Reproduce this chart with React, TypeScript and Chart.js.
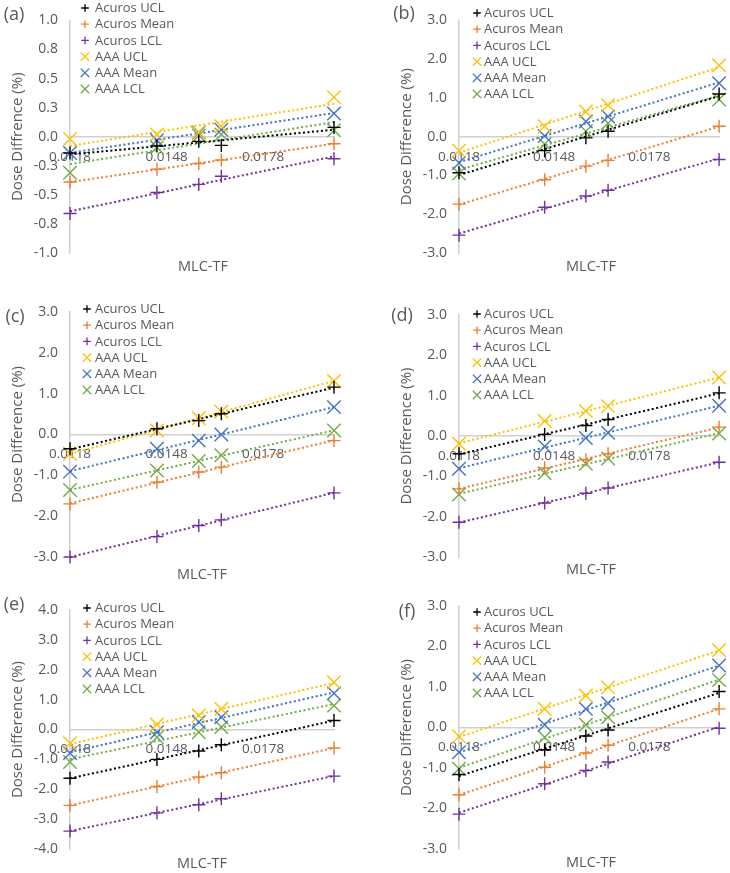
import React, { useEffect, useRef } from "react";
import { Chart, registerables } from "chart.js";

Chart.register(...registerables);

// ---------- data ----------
const mlcTF = [0.0118, 0.0145, 0.0158, 0.0165, 0.02];
const xTickValues = [0.0118, 0.0148, 0.0178];

const seriesNames = ["Acuros UCL", "Acuros Mean", "Acuros LCL", "AAA UCL", "AAA Mean", "AAA LCL"];
const seriesColors = ["#000000", "#ED7D31", "#7030A0", "#FFC000", "#4472C4", "#70AD47"];
const seriesMarkers = ["cross", "cross", "cross", "crossRot", "crossRot", "crossRot"];

const yTicksA = [-1, -0.75, -0.5, -0.25, 0, 0.25, 0.5, 0.75, 1];
const yTicks3 = [-3, -2, -1, 0, 1, 2, 3];
const yTicks4 = [-4, -3, -2, -1, 0, 1, 2, 3, 4];

// (a)
const a_acurosUCL = [-0.14, -0.08, -0.04, -0.075, 0.08];
const a_acurosMean = [-0.39, -0.28, -0.23, -0.2, -0.06];
const a_acurosLCL = [-0.66, -0.48, -0.41, -0.34, -0.19];
const a_aaaUCL = [-0.02, 0.02, 0.04, 0.09, 0.34];
const a_aaaMean = [-0.14, -0.03, 0.035, 0.06, 0.2];
const a_aaaLCL = [-0.31, -0.09, 0.01, 0.02, 0.055];

// (b)
const b_acurosUCL = [-0.93, -0.36, -0.03, 0.14, 1.1];
const b_acurosMean = [-1.74, -1.11, -0.76, -0.61, 0.27];
const b_acurosLCL = [-2.54, -1.82, -1.53, -1.38, -0.59];
const b_aaaUCL = [-0.36, 0.27, 0.65, 0.81, 1.84];
const b_aaaMean = [-0.68, 0.02, 0.39, 0.52, 1.38];
const b_aaaLCL = [-0.95, -0.19, 0.14, 0.35, 0.96];

// (c)
const c_acurosUCL = [-0.35, 0.14, 0.34, 0.51, 1.16];
const c_acurosMean = [-1.7, -1.17, -0.92, -0.8, -0.15];
const c_acurosLCL = [-3.0, -2.5, -2.23, -2.09, -1.43];
const c_aaaUCL = [-0.47, 0.1, 0.4, 0.56, 1.31];
const c_aaaMean = [-0.91, -0.35, -0.15, 0.0, 0.67];
const c_aaaLCL = [-1.36, -0.88, -0.65, -0.51, 0.1];

// (d)
const d_acurosUCL = [-0.44, 0.04, 0.26, 0.41, 1.07];
const d_acurosMean = [-1.31, -0.79, -0.59, -0.44, 0.22];
const d_acurosLCL = [-2.14, -1.66, -1.42, -1.29, -0.65];
const d_aaaUCL = [-0.19, 0.37, 0.62, 0.74, 1.45];
const d_aaaMean = [-0.81, -0.26, -0.05, 0.08, 0.75];
const d_aaaLCL = [-1.45, -0.92, -0.69, -0.56, 0.06];

// (e)
const e_acurosUCL = [-1.63, -1.0, -0.72, -0.51, 0.3];
const e_acurosMean = [-2.54, -1.91, -1.59, -1.45, -0.62];
const e_acurosLCL = [-3.4, -2.79, -2.52, -2.32, -1.56];
const e_aaaUCL = [-0.46, 0.17, 0.47, 0.69, 1.58];
const e_aaaMean = [-0.79, -0.09, 0.25, 0.41, 1.21];
const e_aaaLCL = [-1.09, -0.26, -0.09, 0.08, 0.8];

// (f)
const f_acurosUCL = [-1.16, -0.55, -0.21, -0.06, 0.89];
const f_acurosMean = [-1.66, -0.98, -0.63, -0.44, 0.46];
const f_acurosLCL = [-2.14, -1.39, -1.06, -0.85, -0.02];
const f_aaaUCL = [-0.22, 0.46, 0.79, 0.99, 1.91];
const f_aaaMean = [-0.61, 0.07, 0.46, 0.6, 1.53];
const f_aaaLCL = [-1.02, -0.24, 0.07, 0.25, 1.17];

// ---------- layout / style ----------
const FONT = '"Open Sans", "DejaVu Sans", sans-serif';
const TEXT = "#595959";
const AXIS = "#d0d0d0";
const CW = 365;
const CH = 293;

const panels = [
  {
    label: "(a)", yTitle: "Dose Diffrence (%)", yTicks: yTicksA,
    series: [a_acurosUCL, a_acurosMean, a_acurosLCL, a_aaaUCL, a_aaaMean, a_aaaLCL],
    left: 0, top: 0, axisX: 70, plotTop: 13, plotBottom: 253, plotRight: 334,
    labelX: 14, labelY: 15, titleX: 203, titleY: 267, legX: 85, legTextX: 95, legY: 8,
  },
  {
    label: "(b)", yTitle: "Dose Difference (%)", yTicks: yTicks3,
    series: [b_acurosUCL, b_acurosMean, b_acurosLCL, b_aaaUCL, b_aaaMean, b_aaaLCL],
    left: 365, top: 0, axisX: 459, plotTop: 15, plotBottom: 253, plotRight: 723,
    labelX: 404, labelY: 14, titleX: 591, titleY: 267, legX: 477, legTextX: 484, legY: 13,
  },
  {
    label: "(c)", yTitle: "Dose Difference (%)", yTicks: yTicks3,
    series: [c_acurosUCL, c_acurosMean, c_acurosLCL, c_aaaUCL, c_aaaMean, c_aaaLCL],
    left: 0, top: 290, axisX: 70, plotTop: 312, plotBottom: 557, plotRight: 334,
    labelX: 15, labelY: 317, titleX: 202, titleY: 575, legX: 87, legTextX: 95, legY: 309,
  },
  {
    label: "(d)", yTitle: "Dose Difference (%)", yTicks: yTicks3,
    series: [d_acurosUCL, d_acurosMean, d_acurosLCL, d_aaaUCL, d_aaaMean, d_aaaLCL],
    left: 365, top: 290, axisX: 459, plotTop: 315, plotBottom: 557, plotRight: 723,
    labelX: 402, labelY: 316, titleX: 591, titleY: 570, legX: 477, legTextX: 484, legY: 314,
  },
  {
    label: "(e)", yTitle: "Dose Difference (%)", yTicks: yTicks4,
    series: [e_acurosUCL, e_acurosMean, e_acurosLCL, e_aaaUCL, e_aaaMean, e_aaaLCL],
    left: 0, top: 580, axisX: 70, plotTop: 610, plotBottom: 849, plotRight: 334,
    labelX: 14, labelY: 605, titleX: 202, titleY: 864, legX: 87, legTextX: 95, legY: 608,
  },
  {
    label: "(f)", yTitle: "Dose Difference (%)", yTicks: yTicks3,
    series: [f_acurosUCL, f_acurosMean, f_acurosLCL, f_aaaUCL, f_aaaMean, f_aaaLCL],
    left: 365, top: 580, axisX: 459, plotTop: 606, plotBottom: 849, plotRight: 723,
    labelX: 407, labelY: 612, titleX: 591, titleY: 863, legX: 477, legTextX: 484, legY: 612,
  },
];

function linFit(xs: number[], ys: number[]) {
  const n = xs.length;
  const mx = xs.reduce((s, v) => s + v, 0) / n;
  const my = ys.reduce((s, v) => s + v, 0) / n;
  let sxy = 0;
  let sxx = 0;
  for (let i = 0; i < n; i++) {
    sxy += (xs[i] - mx) * (ys[i] - my);
    sxx += (xs[i] - mx) * (xs[i] - mx);
  }
  const b = sxy / sxx;
  const a = my - b * mx;
  return (x: number) => a + b * x;
}

function drawMarker(ctx: CanvasRenderingContext2D, style: string, x: number, y: number, r: number, color: string, lw: number) {
  ctx.save();
  ctx.strokeStyle = color;
  ctx.lineWidth = lw;
  ctx.beginPath();
  if (style === "cross") {
    ctx.moveTo(x - r, y);
    ctx.lineTo(x + r, y);
    ctx.moveTo(x, y - r);
    ctx.lineTo(x, y + r);
  } else {
    ctx.moveTo(x - r, y - r);
    ctx.lineTo(x + r, y + r);
    ctx.moveTo(x + r, y - r);
    ctx.lineTo(x - r, y + r);
  }
  ctx.stroke();
  ctx.restore();
}

function Panel({ p }: { p: any }) {
  const ref = useRef<HTMLCanvasElement>(null);
  useEffect(() => {
    if (!ref.current) return;
    const datasets: any[] = [];
    p.series.forEach((ys: number[], i: number) => {
      datasets.push({
        label: seriesNames[i],
        data: mlcTF.map((x, k) => ({ x, y: ys[k] })),
        showLine: false,
        pointStyle: seriesMarkers[i],
        pointRadius: seriesMarkers[i] === "cross" ? 6.5 : 9.5,
        pointHoverRadius: seriesMarkers[i] === "cross" ? 6.5 : 9.5,
        pointBorderColor: seriesColors[i],
        pointBackgroundColor: "rgba(0,0,0,0)",
        pointBorderWidth: 1.4,
        borderColor: seriesColors[i],
        clip: false,
      });
    });
    p.series.forEach((ys: number[], i: number) => {
      const f = linFit(mlcTF, ys);
      const x0 = mlcTF[0];
      const x1 = mlcTF[mlcTF.length - 1];
      datasets.push({
        label: seriesNames[i] + " trend",
        data: [{ x: x0, y: f(x0) }, { x: x1, y: f(x1) }],
        showLine: true,
        pointRadius: 0,
        pointHoverRadius: 0,
        borderColor: seriesColors[i],
        borderWidth: 2,
        borderDash: [2, 2.5],
        clip: false,
      });
    });

    const yMin = p.yTicks[0];
    const yMax = p.yTicks[p.yTicks.length - 1];
    const padLeft = p.axisX - p.left - 70;

    const deco = {
      id: "deco",
      afterDraw(chart: any) {
        const ctx = chart.ctx as CanvasRenderingContext2D;
        ctx.save();
        ctx.fillStyle = TEXT;
        ctx.textBaseline = "middle";
        ctx.textAlign = "center";
        ctx.font = `18px ${FONT}`;
        ctx.fillText(p.label, p.labelX - p.left, p.labelY - p.top);
        ctx.font = `14.5px ${FONT}`;
        ctx.fillText("MLC-TF", p.titleX - p.left, p.titleY - p.top);
        ctx.textAlign = "left";
        ctx.font = `13px ${FONT}`;
        for (let i = 0; i < seriesNames.length; i++) {
          const y = p.legY - p.top + i * 16.2;
          drawMarker(ctx, seriesMarkers[i], p.legX - p.left, y, seriesMarkers[i] === "cross" ? 3.8 : 4.2, seriesColors[i], 1.3);
          ctx.fillStyle = TEXT;
          ctx.fillText(seriesNames[i], p.legTextX - p.left, y + 0.5);
        }
        ctx.restore();
      },
    };

    const chart = new Chart(ref.current, {
      type: "scatter",
      data: { datasets },
      options: {
        responsive: false,
        maintainAspectRatio: false,
        animation: false,
        events: [],
        layout: {
          padding: {
            left: padLeft,
            top: p.plotTop - p.top,
            right: CW - (p.plotRight - p.left),
            bottom: CH - (p.plotBottom - p.top),
          },
        },
        plugins: {
          legend: { display: false },
          tooltip: { enabled: false },
        },
        scales: {
          x: {
            type: "linear",
            position: { y: 0 } as any,
            min: mlcTF[0],
            max: mlcTF[mlcTF.length - 1],
            afterBuildTicks: (s: any) => {
              s.ticks = xTickValues.map((v) => ({ value: v }));
            },
            grid: { display: false, drawTicks: false },
            border: { display: true, color: AXIS, width: 1.5 },
            ticks: {
              autoSkip: false,
              maxRotation: 0,
              padding: 12,
              color: TEXT,
              font: { family: FONT, size: 13.5 },
              callback: (v: any) => Number(v).toFixed(4),
            },
          },
          y: {
            type: "linear",
            min: yMin,
            max: yMax,
            afterBuildTicks: (s: any) => {
              s.ticks = p.yTicks.map((v: number) => ({ value: v }));
            },
            afterFit: (s: any) => {
              s.width = 70;
            },
            grid: { display: false, drawTicks: false },
            border: { display: true, color: AXIS, width: 1.5 },
            ticks: {
              padding: 12,
              color: TEXT,
              font: { family: FONT, size: 14 },
              callback: (v: any) => Number(v).toFixed(1),
            },
            title: {
              display: true,
              text: p.yTitle,
              color: TEXT,
              font: { family: FONT, size: 15 },
              padding: { top: 9, bottom: 0 },
            },
          },
        },
      },
      plugins: [deco],
    } as any);
    return () => chart.destroy();
  }, [p]);

  return (
    <canvas
      ref={ref}
      width={CW}
      height={CH}
      style={{ position: "absolute", left: p.left, top: p.top, width: CW, height: CH, display: "block" }}
    />
  );
}

export default function App() {
  return (
    <div style={{ position: "absolute", left: 0, top: 0, width: 730, height: 873, background: "#ffffff", overflow: "hidden" }}>
      {panels.map((p) => (
        <Panel key={p.label} p={p} />
      ))}
    </div>
  );
}
